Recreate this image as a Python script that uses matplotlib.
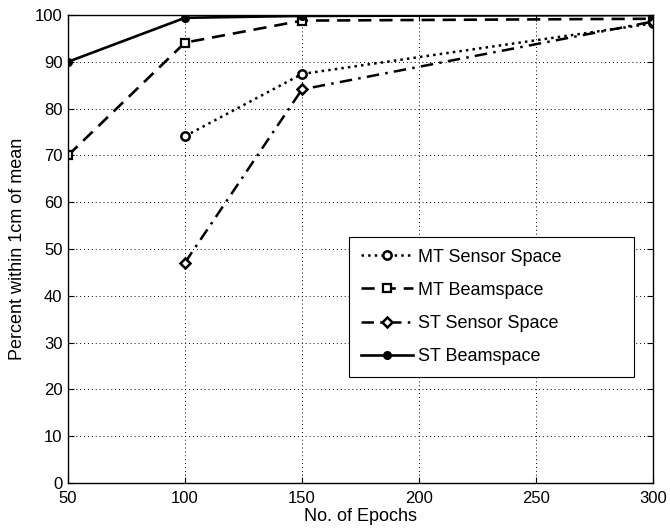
import matplotlib
matplotlib.use("Agg")
import matplotlib.pyplot as plt

plt.rcParams['font.family'] = ['Liberation Sans', 'DejaVu Sans']

# data
epochs_mt_sensor = [100, 150, 300]
mt_sensor = [74.1, 87.4, 98.2]

epochs_mt_beam = [50, 100, 150, 300]
mt_beam = [70, 94.1, 98.8, 99.2]

epochs_st_sensor = [100, 150, 300]
st_sensor = [47.1, 84.1, 98.6]

epochs_st_beam = [50, 100, 150, 300]
st_beam = [90, 99.4, 99.8, 100]

xticks = [50, 100, 150, 200, 250, 300]
yticks = list(range(0, 101, 10))

fig = plt.figure(figsize=(6.7, 5.29), dpi=100)
ax = fig.add_axes([68 / 670, 46 / 529, 585 / 670, 468 / 529])

ax.plot(epochs_mt_sensor, mt_sensor, color='black', linestyle=':', linewidth=1.8,
        marker='o', markersize=6, markerfacecolor='white', markeredgewidth=1.8,
        label='MT Sensor Space')
ax.plot(epochs_mt_beam, mt_beam, color='black', linestyle=(0, (5, 3)), linewidth=1.9,
        marker='s', markersize=5.5, markerfacecolor='white', markeredgewidth=1.6,
        label='MT Beamspace')
ax.plot(epochs_st_sensor, st_sensor, color='black', linestyle=(0, (5, 2.5, 1, 2.5)), linewidth=1.8,
        marker='D', markersize=5, markerfacecolor='white', markeredgewidth=1.8,
        label='ST Sensor Space')
ax.plot(epochs_st_beam, st_beam, color='black', linestyle='-', linewidth=1.9,
        marker='o', markersize=5.5, markerfacecolor='black',
        label='ST Beamspace')

ax.set_xlim(50, 300)
ax.set_ylim(0, 100)
ax.set_xticks(xticks)
ax.set_yticks(yticks)
ax.grid(True, color='black', linestyle=(0, (1, 3)), linewidth=0.7)
ax.tick_params(direction='in', top=True, right=True, labelsize=12, length=4, width=0.8)
ax.tick_params(axis='x', pad=6)
ax.tick_params(axis='y', pad=4)
for s in ax.spines.values():
    s.set_linewidth(1.0)

ax.set_xlabel('No. of Epochs', fontsize=13, labelpad=1)
ax.set_ylabel('Percent within 1cm of mean', fontsize=13, labelpad=6)

leg = ax.legend(loc='lower left', bbox_to_anchor=(0.48, 0.2265, 0.487, 0.3056), mode='expand',
                borderaxespad=0, fontsize=13, frameon=True, fancybox=False,
                edgecolor='black', framealpha=1,
                handlelength=2.9, labelspacing=0.9, borderpad=0.65, handletextpad=0.3)
leg.get_frame().set_linewidth(0.8)

fig.savefig('out.png', dpi=100)
